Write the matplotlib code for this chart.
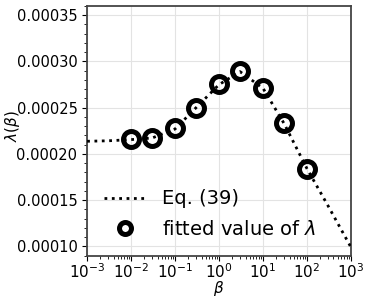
import numpy as np
import matplotlib.pyplot as plt
from matplotlib.ticker import MultipleLocator

# fitted lambda values
beta_fit = [1e-2, 3e-2, 1e-1, 3e-1, 1, 3, 10, 30, 100]
lam_fit = [2.159e-4, 2.170e-4, 2.277e-4, 2.499e-4, 2.756e-4,
           2.892e-4, 2.714e-4, 2.330e-4, 1.837e-4]

# Eq. (39) curve
beta_eq = [1e-3, 3e-3, 1e-2, 3e-2, 1e-1, 3e-1, 1, 3, 10, 30, 100, 300, 1000]
lam_eq = [2.137e-4, 2.142e-4, 2.155e-4, 2.172e-4, 2.27e-4, 2.50e-4, 2.75e-4,
          2.89e-4, 2.71e-4, 2.33e-4, 1.84e-4, 1.44e-4, 0.99e-4]

fig = plt.figure(figsize=(3.66, 2.99), dpi=100)
ax = fig.add_axes([0.238, 0.145, 0.721, 0.835])

ax.plot(beta_eq, lam_eq, ls=':', lw=2, color='black', label='Eq. (39)', zorder=4)
ax.plot(beta_fit, lam_fit, 'o', ms=11.5, mfc='none', mec='black', mew=3.6,
        label=r'fitted value of $\lambda$', zorder=3)

ax.set_xscale('log')
ax.set_xlim(1e-3, 1e3)
ax.set_ylim(0.00009, 0.00036)
ax.set_xticks([1e-3, 1e-2, 1e-1, 1, 1e1, 1e2, 1e3])
ax.yaxis.set_major_locator(MultipleLocator(0.00005))
ax.yaxis.set_minor_locator(MultipleLocator(0.00001))
ax.yaxis.set_major_formatter(plt.FormatStrFormatter('%.5f'))
ax.tick_params(axis='y', labelsize=10.5)
ax.tick_params(axis='x', labelsize=11, pad=1)
ax.grid(True, which='major', color='#e3e3e3', lw=0.8)
ax.set_axisbelow(True)
for s in ax.spines.values():
    s.set_color('#444444')
    s.set_linewidth(1.3)

ax.set_xlabel(r'$\beta$', fontsize=11)
ax.xaxis.set_label_coords(0.5, -0.093)
ax.set_ylabel(r'$\lambda(\beta)$', fontsize=11)
ax.yaxis.set_label_coords(-0.245, 0.52)

ax.legend(loc='lower left', fontsize=14, frameon=False, markerscale=0.75,
          handlelength=2.2, borderaxespad=0.45, labelspacing=0.6)

fig.savefig('out.png', dpi=100)
